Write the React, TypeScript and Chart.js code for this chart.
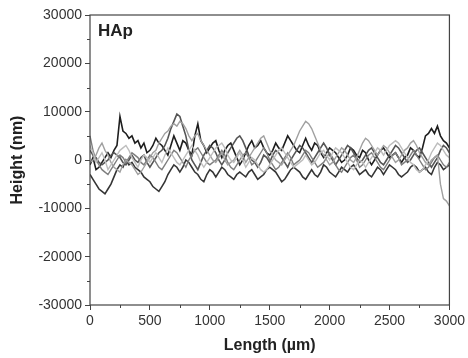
import React, { useEffect, useRef } from "react";
import { Chart, registerables } from "chart.js";

Chart.register(...registerables);

// Length positions (µm)
const lengths: number[] = [
  0, 25, 50, 75, 100, 125, 150, 175, 200, 225, 250, 275, 300, 325, 350, 375, 400, 425, 450, 475,
  500, 525, 550, 575, 600, 625, 650, 675, 700, 725, 750, 775, 800, 825, 850, 875, 900, 925, 950, 975,
  1000, 1025, 1050, 1075, 1100, 1125, 1150, 1175, 1200, 1225, 1250, 1275, 1300, 1325, 1350, 1375, 1400, 1425, 1450, 1475,
  1500, 1525, 1550, 1575, 1600, 1625, 1650, 1675, 1700, 1725, 1750, 1775, 1800, 1825, 1850, 1875, 1900, 1925, 1950, 1975,
  2000, 2025, 2050, 2075, 2100, 2125, 2150, 2175, 2200, 2225, 2250, 2275, 2300, 2325, 2350, 2375, 2400, 2425, 2450, 2475,
  2500, 2525, 2550, 2575, 2600, 2625, 2650, 2675, 2700, 2725, 2750, 2775, 2800, 2825, 2850, 2875, 2900, 2925, 2950, 2975,
  3000,
];

// Height profiles (nm)
const profile1: number[] = [
  -1000, 500, -2000, -1500, -500, 500, 1500, 500, 2000, 3000, 9000, 6000, 5500, 4500, 5000, 3500, 4000, 2500, 3500, 1500,
  2000, 3000, 4500, 3500, 3000, 2000, 1000, 3000, 5000, 3500, 2000, 4000, 3500, 2000, 1000, 5000, 7500, 4000, 3000, 1500,
  2500, 3500, 4000, 2000, 500, 2000, 3000, 3500, 2000, 500, -1000, 0, 1500, 3000, 4000, 2500, 3000, 4000, 2500, 1500,
  1000, 2000, 3500, 2500, 2000, 3500, 5000, 4000, 3000, 2000, 1500, 3000, 4500, 3000, 2000, 3500, 3000, 1500, 500, 1500,
  2500, 2000, 1500, 500, -500, 0, 1000, 2500, 2000, 1000, 500, 2000, 1500, 0, -1000, 0, 1000, 2000, 2500, 1500,
  500, 1000, 1500, 500, -500, 500, 1000, 2500, 2000, 1000, 500, 2500, 5000, 5500, 6500, 5500, 7000, 5000, 4000, 3500,
  2500,
];
const profile2: number[] = [
  -3000, -4000, -5000, -6000, -6500, -7000, -6000, -5000, -3500, -2000, -1000, -1500, 0, -1000, -500, -1500, -2000, -2500, -3500, -4000,
  -4500, -5500, -6000, -6500, -5500, -4500, -3000, -2000, -1000, -1500, -2500, -1500, 0, -500, -1500, -2500, -3000, -4000, -4500, -3000,
  -2000, -2500, -3500, -2500, -1500, -2000, -3000, -3500, -4000, -3000, -2500, -3000, -3500, -2500, -2000, -3000, -4000, -3500, -3000, -2000,
  -1500, -2000, -2500, -3500, -4500, -4000, -3000, -2000, -1500, -2000, -2500, -3500, -4000, -3000, -2000, -3000, -3500, -2500, -1000, -1500,
  -2500, -3000, -3500, -2500, -1500, -2000, -2500, -1500, -1000, -2000, -3000, -2500, -2000, -3000, -3500, -2500, -1500, -2000, -3000, -2000,
  -1000, -1500, -2000, -3000, -3500, -3000, -2500, -1500, -1000, -1500, -2500, -2000, -1500, -2500, -3000, -1500, -500, -1000, -2000, -1500,
  -1000,
];
const profile3: number[] = [
  2000, 1000, 500, -500, -1000, -500, 0, 1000, 1500, 1000, 500, -500, -1000, 0, 1000, 0, -500, 500, 1000, -500,
  -1500, -500, 500, 1500, 2000, 3000, 4500, 6500, 8000, 9500, 9000, 7000, 5000, 2000, 0, -1000, -2000, -500, 1000, 2000,
  3000, 2500, 1500, 0, -1000, 0, 1500, 2500, 3500, 4500, 5000, 4000, 2500, 1000, 0, -500, -1500, -500, 1000, 500,
  -500, 1000, 2000, 1500, 500, -500, -1500, 0, 1000, 2000, 3000, 2500, 1500, 500, -500, 500, 1500, 2500, 3500, 2500,
  1000, 0, -1000, 0, 1000, 2000, 3000, 2500, 1500, 500, -500, 0, 1000, 2000, 2500, 1500, 500, -500, -1000, 0,
  1000, 2000, 3000, 2500, 1500, 500, -500, 0, 1000, 2000, 2500, 1500, 500, -500, -1500, -500, 500, 2000, 3000, 2500,
  1500,
];
const profile4: number[] = [
  5000, 2000, 0, -1000, -2000, -2500, -3000, -2000, -1000, 0, 1000, 500, -500, 500, 1500, 1000, 500, -500, -1000, 0,
  1000, 500, -500, -1500, -2000, -1000, 0, 1000, 2000, 1500, 500, -500, -1500, 0, 1000, 2000, 2500, 1500, 500, -500,
  -1000, -500, 0, 1000, 2000, 1000, -500, -1500, -2000, -1000, 0, 1000, 1500, 500, -1000, -500, 500, 1500, 2500, 1500,
  0, -1000, -2000, -1500, -500, 500, 1500, 500, -1000, -500, 0, 1000, 2000, 1500, 500, -500, -1500, -1000, -500, 500,
  1500, 500, -1000, -2000, -2500, -1500, -500, 500, 1000, 0, -1500, -1000, 0, 1000, 1500, 500, -500, -1500, -2000, -1000,
  0, 1000, 1500, 500, -1000, -500, 0, 1000, 2000, 1000, 0, -1000, -2000, -1500, -500, 500, 1000, 0, -1000, -1500,
  -500,
];
const profile5: number[] = [
  -500, 0, 1000, 2500, 3500, 2000, 1000, -500, -1500, -2000, -2500, -1000, 0, -500, -1000, -2000, -3000, -2500, -1500, -500,
  500, 1500, 2000, 3500, 4500, 5500, 6000, 7000, 7500, 7000, 8000, 7500, 6500, 5000, 4000, 5000, 5500, 4000, 3000, 2000,
  1000, 0, -500, 500, 1500, 0, -1000, -500, 0, 1000, 2000, 1000, -500, 500, 1500, 2500, 3500, 4500, 5000, 3500,
  2000, 1000, 0, -500, -1000, 0, 1000, 2000, 3000, 4500, 6000, 7000, 8000, 7500, 6500, 5000, 3500, 2000, 1000, 0,
  -1000, -500, 500, 1500, 2500, 2000, 1000, 0, -500, 500, 2000, 3500, 4500, 4000, 3000, 2000, 1000, 2000, 3000, 2500,
  1500, 500, -500, 0, 1000, 2000, 2500, 3500, 4000, 3000, 1500, 500, -500, -1000, 0, 500, 1000, -5000, -8000, -8500,
  -9500,
];
const profile6: number[] = [
  3000, 1500, -500, 500, 1500, 0, -2000, -1000, 0, 1000, 2000, 2500, 3000, 2000, 500, -500, -1500, 0, 1000, 500,
  -500, 500, 1500, 500, -500, 1000, 2500, 1500, 500, -500, -1000, 0, 1000, 2000, 3000, 2000, 1000, -500, -1500, -500,
  500, 1500, 2500, 3000, 3500, 2500, 1000, 0, -500, 500, 1500, 0, -1500, -500, 500, 0, -1000, -2000, -2500, -2000,
  -1000, 0, 1000, 2000, 2500, 1500, 500, -500, -1500, -1000, -500, 0, 1000, 0, -1000, -500, 500, 1500, 2000, 1000,
  0, 1500, 2500, 2000, 1500, 500, -500, -1500, -2000, -1000, 0, -500, -1500, -500, 500, 1500, 2500, 2000, 1000, 2000,
  3000, 3500, 4000, 3500, 2500, 1500, 500, -500, -1000, -2000, -2500, -2000, -1000, 0, 1500, 2500, 3500, 3000, 2000, 1000,
  500,
];

const profiles = [profile6, profile5, profile4, profile3, profile2, profile1];
const lineColors = ["#bdbdbd", "#a0a0a0", "#7e7e7e", "#555555", "#353535", "#1e1e1e"];

const xTicks: number[] = [0, 500, 1000, 1500, 2000, 2500, 3000];
const yTicks: number[] = [-30000, -20000, -10000, 0, 10000, 20000, 30000];

const framePlugin = {
  id: "frame",
  afterDraw(chart: any) {
    const { ctx, chartArea } = chart;
    const xs = chart.scales.x;
    const ys = chart.scales.y;
    ctx.save();
    ctx.strokeStyle = "#444";
    ctx.lineWidth = 1.2;
    ctx.strokeRect(chartArea.left, chartArea.top, chartArea.right - chartArea.left, chartArea.bottom - chartArea.top);
    // minor ticks
    ctx.lineWidth = 1;
    ctx.beginPath();
    for (let i = 0; i < xTicks.length - 1; i++) {
      const v = (xTicks[i] + xTicks[i + 1]) / 2;
      const px = Math.round(xs.getPixelForValue(v)) + 0.5;
      ctx.moveTo(px, chartArea.bottom);
      ctx.lineTo(px, chartArea.bottom + 3);
    }
    for (let i = 0; i < yTicks.length - 1; i++) {
      const v = (yTicks[i] + yTicks[i + 1]) / 2;
      const py = Math.round(ys.getPixelForValue(v)) + 0.5;
      ctx.moveTo(chartArea.left, py);
      ctx.lineTo(chartArea.left - 3, py);
    }
    ctx.stroke();
    ctx.fillStyle = "#222";
    ctx.font = "bold 17px 'Liberation Sans', Arial, sans-serif";
    ctx.textBaseline = "alphabetic";
    ctx.fillText("HAp", chartArea.left + 8, chartArea.top + 21);
    ctx.restore();
  },
};

export default function App() {
  const ref = useRef<HTMLCanvasElement | null>(null);
  useEffect(() => {
    if (!ref.current) return;
    const chart = new Chart(ref.current, {
      type: "line",
      data: {
        datasets: profiles.map((p, i) => ({
          label: "profile " + (i + 1),
          data: lengths.map((x, j) => ({ x, y: p[j] })),
          borderColor: lineColors[i],
          borderWidth: i >= 3 ? 1.6 : 1.4,
          pointRadius: 0,
          tension: 0,
          fill: false,
        })),
      },
      plugins: [framePlugin],
      options: {
        animation: false,
        responsive: false,
        maintainAspectRatio: false,
        layout: { padding: { top: 15, right: 17, left: 0, bottom: 0 } },
        plugins: { legend: { display: false }, tooltip: { enabled: false } },
        scales: {
          x: {
            type: "linear",
            min: 0,
            max: 3000,
            afterBuildTicks: (s: any) => {
              s.ticks = xTicks.map((v) => ({ value: v }));
            },
            afterFit: (s: any) => {
              s.height = 53;
            },
            grid: { display: true, drawOnChartArea: false, tickLength: 5, color: "#444", lineWidth: 1 },
            border: { display: false },
            ticks: {
              color: "#333",
              font: { family: "'Liberation Sans', Arial, sans-serif", size: 14 },
              padding: 3,
              maxRotation: 0,
              callback: (v: any) => String(v),
            },
            title: {
              display: true,
              text: "Length (µm)",
              color: "#222",
              font: { family: "'Liberation Sans', Arial, sans-serif", size: 16, weight: "bold" },
              padding: { top: 0, bottom: 3 },
            },
          },
          y: {
            type: "linear",
            min: -30000,
            max: 30000,
            afterBuildTicks: (s: any) => {
              s.ticks = yTicks.map((v) => ({ value: v }));
            },
            afterFit: (s: any) => {
              s.width = 90;
            },
            grid: { display: true, drawOnChartArea: false, tickLength: 5, color: "#444", lineWidth: 1 },
            border: { display: false },
            ticks: {
              color: "#333",
              font: { family: "'Liberation Sans', Arial, sans-serif", size: 14 },
              padding: 3,
              callback: (v: any) => String(v),
            },
            title: {
              display: true,
              text: "Height (nm)",
              color: "#222",
              font: { family: "'Liberation Sans', Arial, sans-serif", size: 16, weight: "bold" },
              padding: { top: 8, bottom: 0 },
            },
          },
        },
      },
    });
    return () => chart.destroy();
  }, []);
  return (
    <div style={{ position: "absolute", left: 0, top: 0, width: 468, height: 358, background: "#fff" }}>
      <canvas ref={ref} width={468} height={358} style={{ width: 468, height: 358 }} />
    </div>
  );
}
